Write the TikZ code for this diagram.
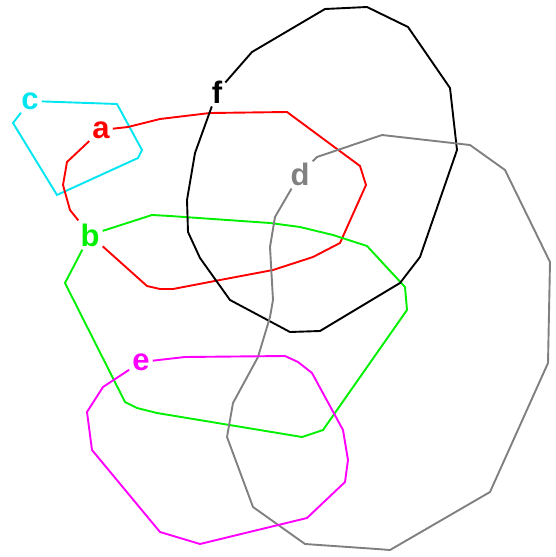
\documentclass[tikz,border=0pt]{standalone}
\usepackage{fontspec}
\setmainfont{Liberation Sans}
\tikzset{
  lbl/.style={font=\bfseries\fontsize{31}{31}\selectfont, inner sep=3pt},
  poly/.style={line width=1.9pt, line join=miter},
}
\definecolor{cc}{RGB}{0,230,240}
\definecolor{gg}{RGB}{0,240,0}
\definecolor{mm}{RGB}{255,0,255}
\definecolor{dd}{RGB}{128,128,128}
\begin{document}
\begin{tikzpicture}[x=1pt,y=-1pt]
\useasboundingbox (0,0) rectangle (555,557);
% labels
\node[lbl, text=cc] (c) at (30,101) {c};
\node[lbl, text=red] (a) at (101,130) {a};
\node[lbl, text=gg] (b) at (90,235) {b};
\node[lbl, text=black] (f) at (217,92) {f};
\node[lbl, text=dd] (d) at (300,174) {d};
\node[lbl, text=mm] (e) at (141,362) {e};
% c
\draw[poly, cc] (c) -- (117,104) -- (142,150) -- (138,158) -- (57,195) -- (13,123) -- (c);
% a
\draw[poly, red] (a) -- (128,127) -- (160,119) -- (210,113) -- (287,112) -- (360,166) -- (366,185) -- (340,243) -- (313,257) -- (273,270) -- (220,280) -- (173,289) -- (160,289) -- (147,286) -- (b) -- (70,210) -- (63,185) -- (67,162) -- (a);
% b
\draw[poly, gg] (b) -- (152,215) -- (170,216) -- (270,223) -- (300,227) -- (333,235) -- (367,246) -- (405,287) -- (407,310) -- (323,430) -- (302,437) -- (157,413) -- (137,408) -- (125,402) -- (65,283) -- (b);
% f
\draw[poly, black] (f) -- (252,52) -- (325,9) -- (367,7) -- (408,27) -- (450,88) -- (457,150) -- (420,257) -- (400,283) -- (320,331) -- (290,332) -- (230,300) -- (200,258) -- (188,232) -- (187,200) -- (195,153) -- (f);
% d
\draw[poly, dd] (d) -- (317,157) -- (382,135) -- (470,145) -- (505,170) -- (550,262) -- (548,363) -- (490,492) -- (390,550) -- (377,549) -- (305,544) -- (253,507) -- (227,437) -- (233,403) -- (258,357) -- (270,317) -- (273,300) -- (270,247) -- (275,217) -- (d);
% e
\draw[poly, mm] (e) -- (185,357) -- (285,356) -- (298,362) -- (312,373) -- (343,430) -- (348,460) -- (345,482) -- (307,518) -- (200,544) -- (160,532) -- (92,450) -- (87,412) -- (103,387) -- (e);
\end{tikzpicture}
\end{document}
